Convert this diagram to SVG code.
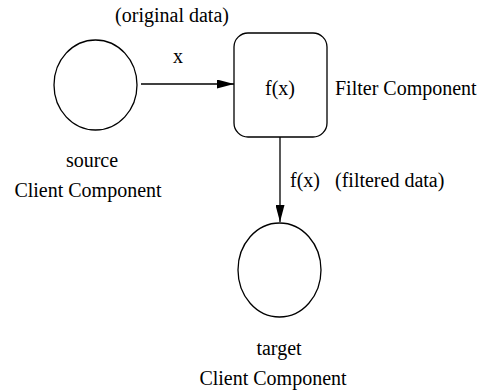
<svg xmlns="http://www.w3.org/2000/svg" width="483" height="392" viewBox="0 0 483 392">
  <style>
    .shape { fill: #fff; stroke: #000; stroke-width: 1.3; }
    .wire { fill: none; stroke: #000; stroke-width: 1.3; }
    .lbl { font-family: 'Liberation Serif', 'DejaVu Serif', 'Times New Roman', serif; font-size: 20px; fill: #000; }
    .mid { text-anchor: middle; }
  </style>
  <defs>
    <marker id="arrow" markerWidth="17" markerHeight="9" refX="17" refY="4.5" orient="auto" markerUnits="userSpaceOnUse">
      <path d="M0,0 L17,4.5 L0,9 Z" fill="#000"/>
    </marker>
  </defs>

  <rect width="483" height="392" fill="#fff"/>

  <g id="connectors">
    <line class="wire" x1="141" y1="84" x2="234" y2="84" marker-end="url(#arrow)"/>
    <line class="wire" x1="280" y1="137" x2="280" y2="222" marker-end="url(#arrow)"/>
    <text class="lbl mid" x="172" y="22">(original data)</text>
    <text class="lbl mid" x="178" y="63">x</text>
    <text class="lbl" x="290" y="187">f(x)</text>
    <text class="lbl" x="335" y="187">(filtered data)</text>
  </g>

  <g id="source">
    <ellipse class="shape" cx="95.5" cy="85" rx="41.5" ry="45"/>
    <text class="lbl mid" x="92" y="167">source</text>
    <text class="lbl mid" x="88" y="197">Client Component</text>
  </g>

  <g id="filter">
    <rect class="shape" x="234" y="33" width="93" height="104" rx="14"/>
    <text class="lbl mid" x="280" y="95">f(x)</text>
    <text class="lbl" x="335" y="95">Filter Component</text>
  </g>

  <g id="target">
    <ellipse class="shape" cx="279.5" cy="270" rx="41.5" ry="47"/>
    <text class="lbl mid" x="279" y="355">target</text>
    <text class="lbl mid" x="273" y="385">Client Component</text>
  </g>
</svg>
